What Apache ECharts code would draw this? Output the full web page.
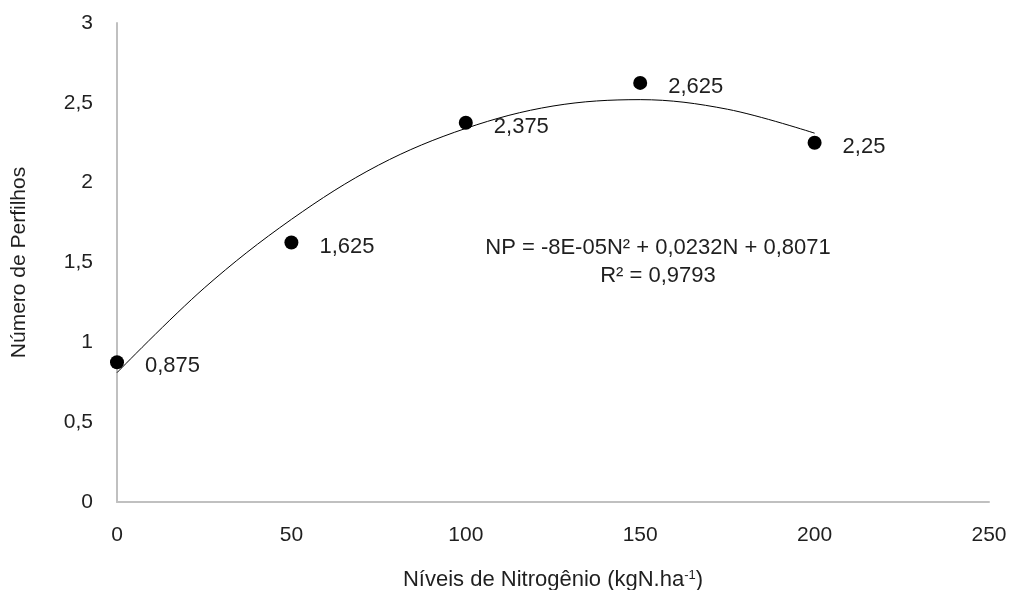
<!DOCTYPE html>
<html>
<head>
<meta charset="utf-8">
<script src="https://cdn.jsdelivr.net/npm/echarts@6/dist/echarts.min.js"></script>
<style>html,body{margin:0;padding:0;background:#fff}#c{width:1012px;height:590px}</style>
</head>
<body>
<div id="c"></div>
<script>
// Observed data
const nitrogenLevels = [0, 50, 100, 150, 200];
const tillerCounts = [0.875, 1.625, 2.375, 2.625, 2.25];
// Trend curve values
const trendX = [0, 25, 50, 75, 100, 125, 150, 175, 200];
const trendY = [0.81, 1.34, 1.77, 2.11, 2.34, 2.48, 2.52, 2.46, 2.31];
const equationText = 'NP = -8E-05N² + 0,0232N + 0,8071';
const r2Text = 'R² = 0,9793';

const fmt = v => String(v).replace('.', ',');
const font = 'Liberation Sans, Arial, sans-serif';
const txt = '#1f1f1f';

const chart = echarts.init(document.getElementById('c'));
chart.setOption({
  animation: false,
  grid: { left: 117, right: 23, top: 23, bottom: 88, outerBoundsMode: 'none', containLabel: false },
  xAxis: {
    type: 'value', min: 0, max: 250, interval: 50,
    axisLine: { show: true, lineStyle: { color: '#c0c0c0', width: 2 } },
    axisTick: { show: false },
    splitLine: { show: false },
    axisLabel: { color: txt, fontSize: 21, fontFamily: font, margin: 23 },
    name: '{n|Níveis de Nitrogênio (kgN.ha}{s|-1}{n|)}',
    nameLocation: 'middle', nameGap: 67,
    nameTextStyle: {
      rich: {
        n: { fontSize: 22, fontFamily: font, color: txt },
        s: { fontSize: 13, fontFamily: font, color: txt, verticalAlign: 'top', padding: [0, 0, 9, 0] }
      }
    }
  },
  yAxis: {
    type: 'value', min: 0, max: 3, interval: 0.5,
    axisLine: { show: true, lineStyle: { color: '#c0c0c0', width: 2 } },
    axisTick: { show: false },
    splitLine: { show: false },
    axisLabel: { color: txt, fontSize: 21, fontFamily: font, margin: 24, formatter: fmt },
    name: 'Número de Perfilhos',
    nameLocation: 'middle', nameGap: 87, nameRotate: 90,
    nameTextStyle: { fontSize: 21, fontFamily: font, color: txt }
  },
  series: [
    {
      type: 'line', smooth: 0.35, symbol: 'none',
      data: trendX.map((x, i) => [x, trendY[i]]),
      lineStyle: { color: '#000', width: 1 },
      z: 2
    },
    {
      type: 'scatter', symbolSize: 14,
      data: nitrogenLevels.map((x, i) => [x, tillerCounts[i]]),
      itemStyle: { color: '#000', opacity: 1 },
      label: {
        show: true, position: 'right', distance: 21, offset: [0, 4],
        color: txt, fontSize: 22, fontFamily: font,
        formatter: p => fmt(p.value[1])
      },
      z: 3
    }
  ],
  graphic: [
    {
      type: 'text', x: 658, y: 234,
      style: { text: equationText + '\n' + r2Text, align: 'center', fontSize: 22, fontFamily: font, fill: txt, lineHeight: 28 }
    }
  ]
});
</script>
</body>
</html>
